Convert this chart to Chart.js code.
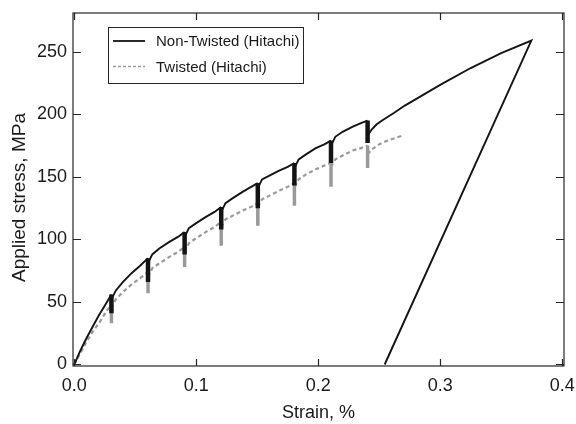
<!DOCTYPE html>
<html>
<head>
<meta charset="utf-8">
<script src="https://cdn.jsdelivr.net/npm/chart.js@4.4.1/dist/chart.umd.min.js"></script>
<style>
  html, body { margin: 0; padding: 0; background: #fff; }
  #wrap { width: 576px; height: 424px; }
</style>
</head>
<body>
<div id="wrap"><canvas id="stress_chart" width="576" height="424"></canvas></div>
<script>
// series labels
var seriesNames = ['Non-Twisted (Hitachi)', 'Twisted (Hitachi)'];
var xTitle = 'Strain, %';
var yTitle = 'Applied stress, MPa';

// Non-Twisted: strain (%) and applied stress (MPa), incl. unload/reload spikes
var nonTwistedStrain = [
  0, 0.005, 0.010, 0.015, 0.020, 0.025, 0.0305, 0.0305, 0.0305,
  0.034, 0.040, 0.047, 0.054, 0.0605, 0.0605, 0.0605,
  0.064, 0.070, 0.078, 0.085, 0.0905, 0.0905, 0.0905,
  0.094, 0.100, 0.108, 0.115, 0.1205, 0.1205, 0.1205,
  0.124, 0.130, 0.138, 0.145, 0.1505, 0.1505, 0.1505,
  0.154, 0.160, 0.168, 0.175, 0.1805, 0.1805, 0.1805,
  0.184, 0.190, 0.198, 0.205, 0.2105, 0.2105, 0.2105,
  0.214, 0.220, 0.228, 0.235, 0.2405, 0.2405, 0.2405,
  0.244, 0.248, 0.253, 0.262, 0.271, 0.285, 0.300, 0.325, 0.350, 0.3747,
  0.2545
];
var nonTwistedStress = [
  0, 11, 21, 30, 39, 47, 56, 41, 52,
  59, 66, 73, 79, 85, 66, 81,
  88, 93, 98, 102, 106, 88, 102,
  109, 113, 118, 122, 126, 108, 122,
  129, 133, 138, 142, 145, 125, 141,
  148, 151, 155, 158, 161, 143, 157,
  164, 168, 173, 176, 179, 161, 175,
  182, 186, 190, 193, 195, 177, 183,
  188, 192, 195.5, 201, 207, 215, 223.5, 237, 249, 259,
  0
];

// Twisted
var twistedStrain = [
  0, 0.005, 0.010, 0.015, 0.021, 0.026, 0.0305, 0.0305, 0.0305,
  0.034, 0.040, 0.047, 0.054, 0.0605, 0.0605, 0.0605,
  0.064, 0.070, 0.078, 0.085, 0.0905, 0.0905, 0.0905,
  0.094, 0.100, 0.108, 0.115, 0.1205, 0.1205, 0.1205,
  0.124, 0.130, 0.138, 0.145, 0.1505, 0.1505, 0.1505,
  0.154, 0.160, 0.168, 0.175, 0.1805, 0.1805, 0.1805,
  0.184, 0.190, 0.198, 0.205, 0.2105, 0.2105, 0.2105,
  0.214, 0.220, 0.228, 0.235, 0.2405, 0.2405, 0.2405,
  0.244, 0.250, 0.257, 0.263, 0.269
];
var twistedStress = [
  0, 9, 18, 26, 34, 42, 48, 33, 45,
  52, 58, 64, 69, 74, 57, 70,
  77, 81, 86, 90, 94, 78, 90,
  97, 101, 106, 110, 114, 95, 110,
  116, 119, 123, 126, 129, 111, 126,
  132, 135, 139, 142, 145, 127, 142,
  148, 152, 156, 159, 161, 142, 158,
  164, 167, 171, 173, 175, 157, 168,
  172, 176, 179, 181, 183
];

// axis ticks
var xTickValues = [0, 0.1, 0.2, 0.3, 0.4];
var yTickValues = [0, 50, 100, 150, 200, 250];

function toPoints(xs, ys) {
  var pts = [];
  for (var i = 0; i < xs.length; i++) pts.push({x: xs[i], y: ys[i]});
  return pts;
}

// true when a line piece is one of the vertical unload/reload spikes
function isSpike(ctx) {
  return Math.abs(ctx.p1.parsed.x - ctx.p0.parsed.x) < 1e-6;
}

var axisColor = '#262626';
var textColor = '#1a1a1a';
var fontFamily = "'Liberation Sans', Arial, sans-serif";

// frame, inward ticks on all four sides, y title and the boxed legend
var framePlugin = {
  id: 'frame',
  afterDatasetsDraw: function(chart) {
    var ctx = chart.ctx;
    var a = chart.chartArea;
    var xs = chart.scales.x, ys = chart.scales.y;
    ctx.save();
    ctx.strokeStyle = axisColor;
    ctx.lineWidth = 1.2;
    ctx.strokeRect(a.left, a.top, a.right - a.left, a.bottom - a.top);
    ctx.beginPath();
    xTickValues.forEach(function(v) {
      var px = Math.round(xs.getPixelForValue(v)) + 0.5;
      ctx.moveTo(px, a.bottom); ctx.lineTo(px, a.bottom - 7);
      ctx.moveTo(px, a.top); ctx.lineTo(px, a.top + 7);
    });
    yTickValues.forEach(function(v) {
      var py = Math.round(ys.getPixelForValue(v)) + 0.5;
      ctx.moveTo(a.left, py); ctx.lineTo(a.left + 8, py);
      ctx.moveTo(a.right, py); ctx.lineTo(a.right - 8, py);
    });
    ctx.stroke();

    // y axis title, a little below the plot's middle as in the original
    ctx.save();
    ctx.translate(20, (a.top + a.bottom) / 2 + 8);
    ctx.rotate(-Math.PI / 2);
    ctx.fillStyle = textColor;
    ctx.font = '19px ' + fontFamily;
    ctx.textAlign = 'center';
    ctx.textBaseline = 'middle';
    ctx.fillText(yTitle, 0, 0);
    ctx.restore();

    // legend
    var lx = 108, ly = 27, lw = 195, lh = 56;
    ctx.fillStyle = '#fff';
    ctx.fillRect(lx, ly, lw, lh);
    ctx.lineWidth = 1;
    ctx.strokeStyle = axisColor;
    ctx.strokeRect(lx + 0.5, ly + 0.5, lw, lh);
    chart.data.datasets.forEach(function(ds, i) {
      var rowY = ly + 14 + i * 25.5;
      ctx.beginPath();
      ctx.strokeStyle = ds.borderColor;
      ctx.lineWidth = i === 0 ? 1.8 : 1.6;
      ctx.setLineDash(i === 0 ? [] : [3, 2]);
      ctx.moveTo(lx + 5, rowY); ctx.lineTo(lx + 37, rowY);
      ctx.stroke();
      ctx.setLineDash([]);
      ctx.fillStyle = textColor;
      ctx.font = '15px ' + fontFamily;
      ctx.textBaseline = 'middle';
      ctx.fillText(ds.label, lx + 48, rowY + 1);
    });
    ctx.restore();
  }
};

var datasets = [
  {
    label: seriesNames[0],
    data: toPoints(nonTwistedStrain, nonTwistedStress),
    borderColor: '#141414',
    borderWidth: 1.9,
    pointRadius: 0,
    tension: 0,
    fill: false,
    segment: {
      borderWidth: function(ctx) { return isSpike(ctx) ? 4.5 : undefined; }
    }
  },
  {
    label: seriesNames[1],
    data: toPoints(twistedStrain, twistedStress),
    borderColor: '#9a9a9a',
    borderWidth: 2.2,
    borderDash: [4, 3],
    pointRadius: 0,
    tension: 0,
    fill: false,
    segment: {
      borderDash: function(ctx) { return isSpike(ctx) ? [] : undefined; },
      borderWidth: function(ctx) { return isSpike(ctx) ? 3.5 : undefined; }
    }
  }
];

var myChart = new Chart(document.getElementById('stress_chart'), {
  type: 'line',
  data: { datasets: datasets },
  options: {
    responsive: false,
    animation: false,
    events: [],
    layout: { padding: { top: 13, right: 12, left: 0, bottom: 0 } },
    plugins: {
      legend: { display: false },
      tooltip: { enabled: false }
    },
    scales: {
      x: {
        type: 'linear',
        min: -0.001,
        max: 0.4015,
        grid: { display: false, tickLength: 0 },
        border: { display: false },
        afterBuildTicks: function(s) {
          s.ticks = xTickValues.map(function(v) { return {value: v}; });
        },
        afterFit: function(s) {
          s.height = 58;
          s.paddingLeft = 0; s.paddingRight = 0;
        },
        ticks: {
          color: textColor,
          padding: 9,
          maxRotation: 0,
          font: { family: fontFamily, size: 18 },
          callback: function(v) { return Number(v).toFixed(1); }
        },
        title: {
          display: true,
          text: xTitle,
          color: textColor,
          padding: { top: 0, bottom: 0 },
          font: { family: fontFamily, size: 18 }
        }
      },
      y: {
        type: 'linear',
        min: -1.2,
        max: 281,
        grid: { display: false, tickLength: 0 },
        border: { display: false },
        afterBuildTicks: function(s) {
          s.ticks = yTickValues.map(function(v) { return {value: v}; });
        },
        afterFit: function(s) {
          s.width = 73;
          s.paddingTop = 0; s.paddingBottom = 0;
        },
        ticks: {
          color: textColor,
          padding: 6,
          font: { family: fontFamily, size: 18 }
        }
      }
    }
  },
  plugins: [framePlugin]
});
</script>
</body>
</html>
